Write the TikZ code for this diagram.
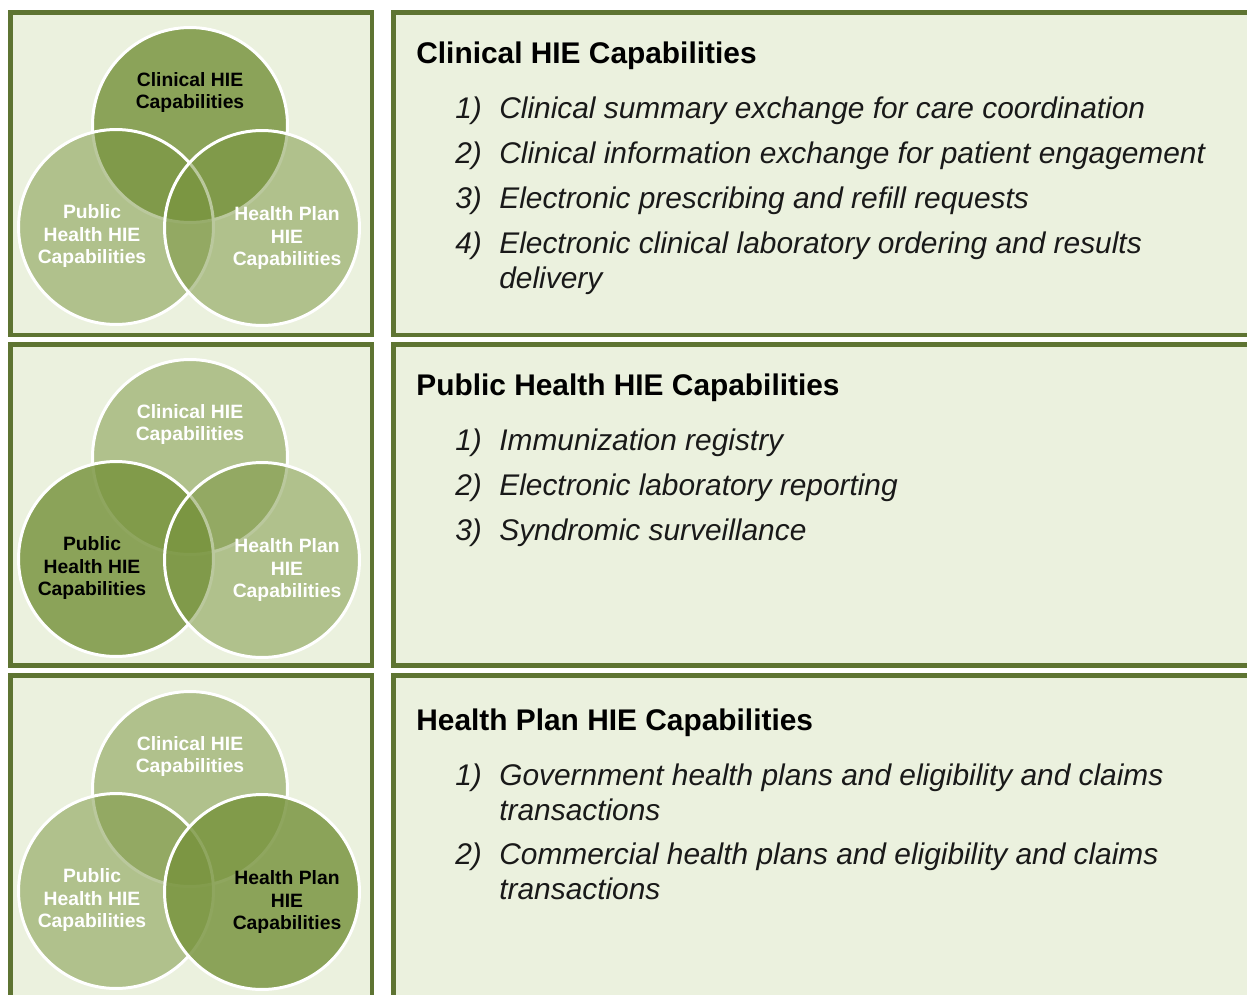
\documentclass[tikz,border=0pt]{standalone}
\usepackage{fontspec}
\setmainfont{Liberation Sans}
\usetikzlibrary{positioning}
\definecolor{hieBorder}{RGB}{94,116,50}
\definecolor{hieFill}{RGB}{235,241,222}
\definecolor{hieGreen}{RGB}{119,147,60}

\tikzset{
    panel/.style={draw=hieBorder, fill=hieFill, line width=2.3pt},
    ring/.style={circle, draw=white, line width=1.7pt, fill=hieGreen, fill opacity=0.5, minimum size=3.9cm, inner sep=0pt},
    ringon/.style={ring, fill opacity=0.82},
    vlabel/.style={text=white, align=center, inner sep=0pt, font=\fontsize{11}{13}\selectfont\bfseries},
    vlabelon/.style={vlabel, text=black},
    heading/.style={anchor=base west, inner sep=0pt, font=\fontsize{17}{20}\selectfont\bfseries},
    entry/.style={anchor=base west, inner sep=0pt, text=black!90, font=\fontsize{17}{20}\selectfont\itshape}
}

\begin{document}
\begin{tikzpicture}[x=0.02cm,y=-0.02cm]
    \useasboundingbox (0,0) rectangle (1247,994);
    \clip (0,0) rectangle (1247,994);
    \fill[white] (0,0) rectangle (1247,994);

    % frames
    \draw[panel] (10.5,12.5) rectangle (372,335);
    \draw[panel] (393.5,12.5) rectangle (1280,335);
    \draw[panel] (10.5,344.5) rectangle (372,665.5);
    \draw[panel] (393.5,344.5) rectangle (1280,665.5);
    \draw[panel] (10.5,675.5) rectangle (372,1020);
    \draw[panel] (393.5,675.5) rectangle (1280,1020);

    % venn 1: clinical
    \node[ringon] (clinA) at (190,125) {};
    \node[ring] (publA) at (116,227) {};
    \node[ring] (planA) at (262,228) {};
    \node[vlabelon] (clinAtxt) at (190,92.5) {Clinical HIE\\Capabilities};
    \node[vlabel] (publAtxt) at (92,236) {Public\\Health HIE\\Capabilities};
    \node[vlabel] (planAtxt) at (287,238) {Health Plan\\HIE\\Capabilities};

    % venn 2: public health
    \node[ring] (clinB) at (190,457) {};
    \node[ringon] (publB) at (116,559) {};
    \node[ring] (planB) at (262,560) {};
    \node[vlabel] (clinBtxt) at (190,424.5) {Clinical HIE\\Capabilities};
    \node[vlabelon] (publBtxt) at (92,568) {Public\\Health HIE\\Capabilities};
    \node[vlabel] (planBtxt) at (287,570) {Health Plan\\HIE\\Capabilities};

    % venn 3: health plan
    \node[ring] (clinC) at (190,789) {};
    \node[ring] (publC) at (116,891) {};
    \node[ringon] (planC) at (262,892) {};
    \node[vlabel] (clinCtxt) at (190,756.5) {Clinical HIE\\Capabilities};
    \node[vlabel] (publCtxt) at (92,900) {Public\\Health HIE\\Capabilities};
    \node[vlabelon] (planCtxt) at (287,902) {Health Plan\\HIE\\Capabilities};

    % clinical list
    \node[heading] (clinHead) at (416,63) {Clinical HIE Capabilities};
    \node[entry] (clinN1) at (455,118) {1)};
    \node[entry] (clinT1) at (499,118) {Clinical summary exchange for care coordination};
    \node[entry] (clinN2) at (455,163) {2)};
    \node[entry] (clinT2) at (499,163) {Clinical information exchange for patient engagement};
    \node[entry] (clinN3) at (455,208) {3)};
    \node[entry] (clinT3) at (499,208) {Electronic prescribing and refill requests};
    \node[entry] (clinN4) at (455,253) {4)};
    \node[entry] (clinT4) at (499,253) {Electronic clinical laboratory ordering and results};
    \node[entry] (clinT4b) at (499,288) {delivery};

    % public health list
    \node[heading] (publHead) at (416,395) {Public Health HIE Capabilities};
    \node[entry] (publN1) at (455,450) {1)};
    \node[entry] (publT1) at (499,450) {Immunization registry};
    \node[entry] (publN2) at (455,495) {2)};
    \node[entry] (publT2) at (499,495) {Electronic laboratory reporting};
    \node[entry] (publN3) at (455,540) {3)};
    \node[entry] (publT3) at (499,540) {Syndromic surveillance};

    % health plan list
    \node[heading] (planHead) at (416,730) {Health Plan HIE Capabilities};
    \node[entry] (planN1) at (455,785) {1)};
    \node[entry] (planT1) at (499,785) {Government health plans and eligibility and claims};
    \node[entry] (planT1b) at (499,820) {transactions};
    \node[entry] (planN2) at (455,864) {2)};
    \node[entry] (planT2) at (499,864) {Commercial health plans and eligibility and claims};
    \node[entry] (planT2b) at (499,899) {transactions};
\end{tikzpicture}
\end{document}
